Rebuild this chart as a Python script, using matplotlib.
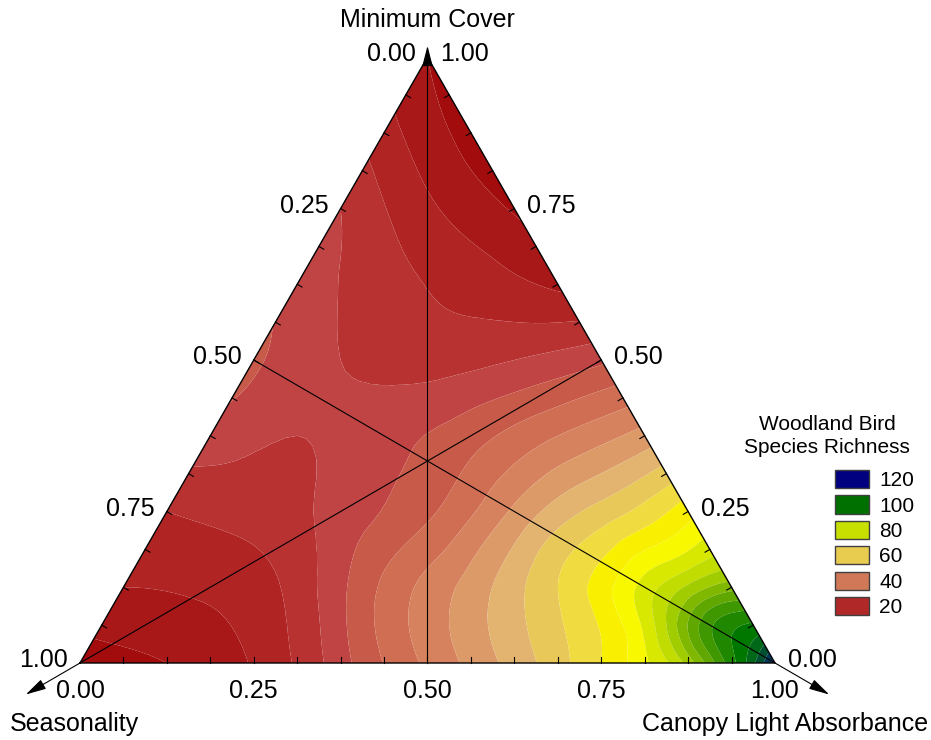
import numpy as np
import matplotlib
matplotlib.use('Agg')
import matplotlib.pyplot as plt
import matplotlib.tri as mtri
from matplotlib.patches import Patch

plt.rcParams['font.family'] = ['Liberation Sans', 'DejaVu Sans']

# richness on a ternary grid (step 0.125)
# canopy = C (bottom-right vertex), cover = M (top vertex), seasonality = 1 - C - M
row_m000 = [7, 10, 15.5, 28, 41, 52, 65, 87, 133]
row_m125 = [15, 16, 22, 36, 47, 60, 77, 93]
row_m250 = [20, 22, 27, 34, 46, 57, 68]
row_m375 = [28, 25, 28, 33, 40, 47]
row_m500 = [31, 25, 23, 25, 29]
row_m625 = [28, 22, 18, 14]
row_m750 = [25, 16, 9.5]
row_m875 = [17, 8]
row_m1000 = [10]
rows = [row_m000, row_m125, row_m250, row_m375, row_m500,
        row_m625, row_m750, row_m875, row_m1000]

# extra readings near the high-richness corner (step 0.0625)
corner_canopy = [0.8125, 0.9375, 0.75, 0.75, 0.8125, 0.8125, 0.8125, 0.875, 0.9375]
corner_cover = [0, 0, 0.0625, 0.1875, 0.0625, 0.125, 0.1875, 0.0625, 0.0625]
corner_richness = [74, 108, 70, 72, 85, 86, 78, 104, 111]

canopy, cover, richness = [], [], []
for i, row in enumerate(rows):
    for j, v in enumerate(row):
        canopy.append(j * 0.125)
        cover.append(i * 0.125)
        richness.append(v)
canopy = np.array(canopy + corner_canopy)
cover = np.array(cover + corner_cover)
richness = np.array(richness + corner_richness, dtype=float)

legend_values = [120, 100, 80, 60, 40, 20]
legend_colors = ['#000080', '#007000', '#c8e000', '#e8cc50', '#d07858', '#b02828']
tick_values = [0.0, 0.25, 0.5, 0.75, 1.0]

# contour levels every 5, with the band colours seen in the picture
levels = np.arange(0, 145, 5)
band_colors = ['#9c0404', '#a20c0c', '#a81818', '#b02424', '#b83232', '#c04444',
               '#c85a4a', '#d06e54', '#d6825e', '#dc9a68', '#e2b470', '#e8c858',
               '#f0dc40', '#f8f000', '#f8f800', '#d8e800', '#c0dc00', '#a0cc00',
               '#80b800', '#60a800', '#409800', '#208800', '#007800', '#006818',
               '#005030', '#003858', '#001870', '#000870']

SQ = np.sqrt(3) / 2


def to_xy(c, m):
    return np.asarray(c) + np.asarray(m) / 2, np.asarray(m) * SQ


fig = plt.figure(figsize=(9.31, 7.40), dpi=100)
ax = fig.add_axes([0, 0, 1, 1])
ax.set_xlim(-80 / 695, 851 / 695)
ax.set_ylim(-77 / 699.7, 663 / 699.7)
ax.axis('off')

x, y = to_xy(canopy, cover)
tri = mtri.Triangulation(x, y)
refiner = mtri.UniformTriRefiner(tri)
tri_f, z_f = refiner.refine_field(richness, subdiv=3)
ax.tricontourf(tri_f, z_f, levels=levels, colors=band_colors, antialiased=True)

# triangle outline
ax.plot([0, 1, 0.5, 0], [0, 0, SQ, 0], color='black', lw=1)

# median lines
ax.plot([0.5, 0.5], [0, SQ], color='black', lw=0.8)
ax.plot([0, 0.75], [0, SQ / 2], color='black', lw=0.8)
ax.plot([1, 0.25], [0, SQ / 2], color='black', lw=0.8)

# axis arrows
arr = dict(arrowstyle='-|>,head_length=0.7,head_width=0.18', color='black', lw=0.8,
           shrinkA=0, shrinkB=0, mutation_scale=18)
ax.annotate('', xy=(-0.09 * SQ, -0.045), xytext=(0, 0), arrowprops=arr)
ax.annotate('', xy=(1 + 0.09 * SQ, -0.045), xytext=(1, 0), arrowprops=arr)
ax.annotate('', xy=(0.5, SQ + 0.016), xytext=(0.5, SQ - 0.01), arrowprops=arr)

# small inward ticks every 1/16
tl = 0.008
for k in range(1, 16):
    t = k / 16
    ax.plot([t, t], [0, tl], color='black', lw=0.8)
    lx, ly = to_xy(0, t)
    ax.plot([lx, lx + tl * SQ], [ly, ly - tl / 2], color='black', lw=0.8)
    rx, ry = to_xy(1 - t, t)
    ax.plot([rx, rx - tl * SQ], [ry, ry - tl / 2], color='black', lw=0.8)

fs = 18
for v in tick_values:
    # bottom: canopy
    ax.annotate(f'{v:.2f}', (v, 0), xytext=(0, -28), textcoords='offset pixels',
                ha='center', va='center', fontsize=fs)
    # left: seasonality (1 at bottom-left)
    lx, ly = to_xy(0, 1 - v)
    ax.annotate(f'{v:.2f}', (lx, ly), xytext=(-12, 3), textcoords='offset pixels',
                ha='right', va='center', fontsize=fs)
    # right: minimum cover (1 at top)
    rx, ry = to_xy(1 - v, v)
    ax.annotate(f'{v:.2f}', (rx, ry), xytext=(13, 3), textcoords='offset pixels',
                ha='left', va='center', fontsize=fs)

fig.text(427 / 931, 1 - 20 / 740, 'Minimum Cover', ha='center', va='center', fontsize=fs)
fig.text(10 / 931, 1 - 724 / 740, 'Seasonality', ha='left', va='center', fontsize=fs)
fig.text(928 / 931, 1 - 724 / 740, 'Canopy Light Absorbance', ha='right', va='center',
         fontsize=fs)

# legend
fig.text(827 / 931, 1 - 436 / 740, 'Woodland Bird\nSpecies Richness', ha='center',
         va='center', multialignment='center', linespacing=1.3, fontsize=15)
handles = [Patch(facecolor=c, edgecolor='#404040', lw=1) for c in legend_colors]
ax.legend(handles, [str(v) for v in legend_values],
          loc='upper left', bbox_to_anchor=(835 / 931, 1 - 470 / 740),
          bbox_transform=fig.transFigure, frameon=False, fontsize=15,
          handlelength=1.63, handleheight=0.96,
          labelspacing=0.25, handletextpad=0.5, borderpad=0, borderaxespad=0)

fig.savefig('out.png', dpi=100)
